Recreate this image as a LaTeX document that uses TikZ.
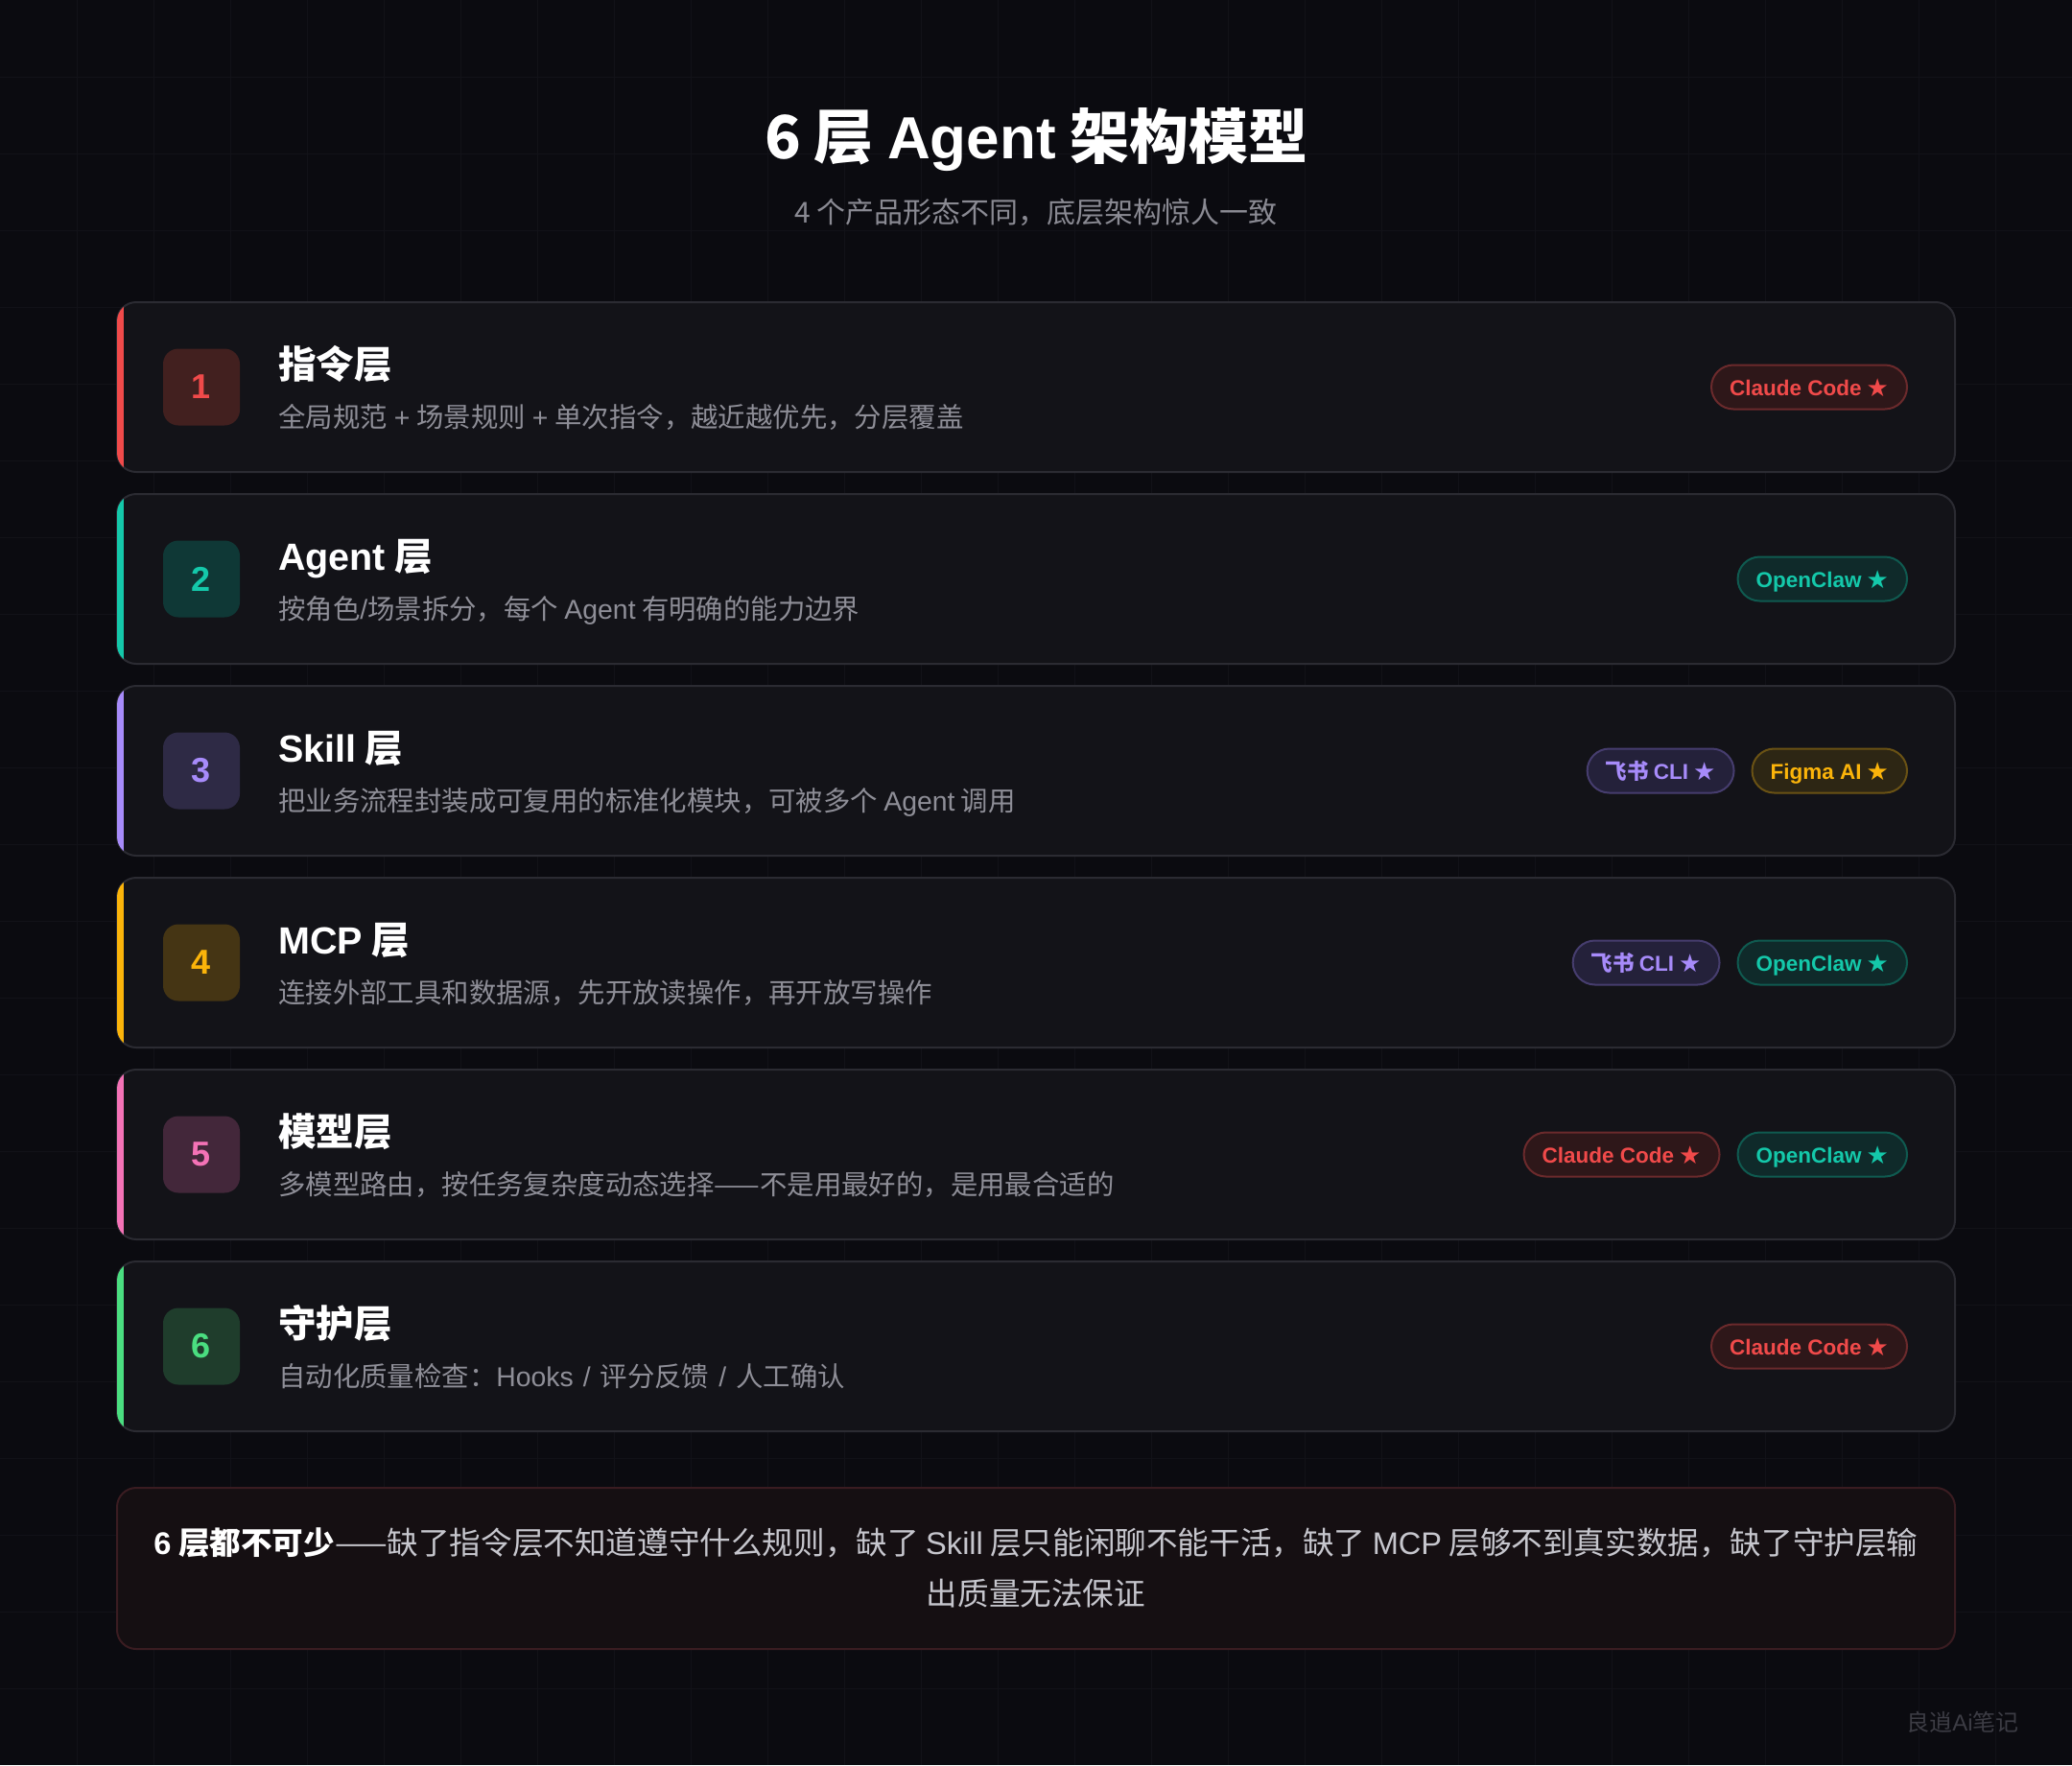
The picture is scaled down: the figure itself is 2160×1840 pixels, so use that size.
\documentclass[tikz,border=0pt]{standalone}
\usepackage{fontspec}
\setmainfont{Noto Sans CJK SC}
\newfontfamily\latinfont{Liberation Sans}
\newfontfamily\starfont{DejaVu Sans}
\newcommand\latw[1]{{\latinfont #1}}
\newcommand\stargl{\raisebox{-1.5pt}{\starfont\fontsize{26}{28}\selectfont ★}}
\newcommand\wsp{\hspace{7pt}}
\definecolor{bgc}{HTML}{0B0B10}
\definecolor{gridc}{HTML}{121218}
\definecolor{cardfill}{HTML}{131318}
\definecolor{cardborder}{HTML}{2B2B32}
\definecolor{desctx}{HTML}{8E8E97}
\definecolor{subtx}{HTML}{8A8A93}
% accent colours
\definecolor{acred}{HTML}{F04A4A}
\definecolor{acteal}{HTML}{14C8AA}
\definecolor{acpurple}{HTML}{A78BFA}
\definecolor{acamber}{HTML}{FBB40A}
\definecolor{acpink}{HTML}{F472B6}
\definecolor{acgreen}{HTML}{4ADE80}
% number box fills
\definecolor{nbred}{HTML}{42201F}
\definecolor{nbteal}{HTML}{0F3836}
\definecolor{nbpurple}{HTML}{2E2A45}
\definecolor{nbamber}{HTML}{453514}
\definecolor{nbpink}{HTML}{43273A}
\definecolor{nbgreen}{HTML}{1F3D2C}
% badge colours
\definecolor{bgred}{HTML}{2E1719}
\definecolor{bdred}{HTML}{6B2A2C}
\definecolor{bgteal}{HTML}{0F2A2A}
\definecolor{bdteal}{HTML}{0F5A50}
\definecolor{bgpurple}{HTML}{24213A}
\definecolor{bdpurple}{HTML}{463D6E}
\definecolor{bgamber}{HTML}{2D2614}
\definecolor{bdamber}{HTML}{6A5214}
% bottom note
\definecolor{notefill}{HTML}{150F12}
\definecolor{noteborder}{HTML}{3A1C21}
\definecolor{notetx}{HTML}{C6C6CD}
\definecolor{marktx}{HTML}{3C3C44}
\tikzset{
  numbox/.style={minimum width=80, minimum height=80, inner sep=0, rounded corners=16,
    font=\fontsize{36}{40}\selectfont\latinfont\bfseries},
  ltitle/.style={anchor=base west, inner sep=0, text=white, font=\fontsize{39.5}{44}\selectfont\bfseries},
  ldesc/.style={anchor=base west, inner sep=0, text=desctx, font=\fontsize{28.4}{32}\selectfont},
  badge/.style={anchor=east, rounded corners=23, minimum height=46, inner xsep=19, inner ysep=0,
    line width=2, text height=17, text depth=0, font=\fontsize{22.5}{26}\selectfont\bfseries},
  bred/.style={badge, fill=bgred, draw=bdred, text=acred},
  bteal/.style={badge, fill=bgteal, draw=bdteal, text=acteal},
  bpurple/.style={badge, fill=bgpurple, draw=bdpurple, text=acpurple},
  bamber/.style={badge, fill=bgamber, draw=bdamber, text=acamber},
}
\newcommand\layercard[6]{%
  \fill[cardfill, rounded corners=20] (122,#2) rectangle (2038,#2+177);
  \draw[cardborder, line width=2, rounded corners=20] (122,#2) rectangle (2038,#2+177);
  \begin{scope}
    \clip[rounded corners=20] (122,#2) rectangle (2038,#2+177);
    \fill[#3] (120,#2) rectangle (129,#2+177);
  \end{scope}
  \node[numbox, fill=#4, text=#3] (n#1) at (210,#2+88.5) {#1};
  \node[ltitle] (t#1) at (290,#2+79.5) {#5};
  \node[ldesc] (d#1) at (290,#2+130) {#6};
}
\begin{document}
\begin{tikzpicture}[x=1pt,y=-1pt]
\useasboundingbox (0,0) rectangle (2160,1840);
\fill[bgc] (0,0) rectangle (2160,1840);
\foreach \i in {80,160,...,2080} \draw[gridc, line width=1] (\i,0) -- (\i,1840);
\foreach \j in {80,160,...,1760} \draw[gridc, line width=1] (0,\j) -- (2160,\j);

\node[anchor=base, inner sep=0, text=white, font=\fontsize{62}{70}\selectfont\bfseries] (title) at (1080,165)
  {6 层 \latw{Agent} 架构模型};
\node[anchor=base, inner sep=0, text=subtx, font=\fontsize{30}{34}\selectfont] (subtitle) at (1080,232)
  {4 个产品形态不同，底层架构惊人一致};

\layercard{1}{315}{acred}{nbred}{指令层}{全局规范\wsp{}\latw{+}\wsp{}场景规则\wsp{}\latw{+}\wsp{}单次指令，越近越优先，分层覆盖}
\layercard{2}{515}{acteal}{nbteal}{\latw{Agent} 层}{按角色\latw{/}场景拆分，每个 \latw{Agent} 有明确的能力边界}
\layercard{3}{715}{acpurple}{nbpurple}{\latw{Skill} 层}{把业务流程封装成可复用的标准化模块，可被多个 \latw{Agent} 调用}
\layercard{4}{915}{acamber}{nbamber}{\latw{MCP} 层}{连接外部工具和数据源，先开放读操作，再开放写操作}
\layercard{5}{1115}{acpink}{nbpink}{模型层}{多模型路由，按任务复杂度动态选择——不是用最好的，是用最合适的}
\layercard{6}{1315}{acgreen}{nbgreen}{守护层}{自动化质量检查：\latw{Hooks}\hspace{10pt}\latw{/}\hspace{10pt}评分反馈\hspace{10pt}\latw{/}\hspace{10pt}人工确认}

% badges
\node[bred] (b1a) at (1989,403.5) {\latw{Claude Code} \stargl};
\node[bteal] (b2a) at (1989,603.5) {\latw{OpenClaw} \stargl};
\node[bamber] (b3a) at (1989,803.5) {\latw{Figma AI} \stargl};
\node[bpurple] (b3b) at ([xshift=-17]b3a.west) {飞书 \latw{CLI} \stargl};
\node[bteal] (b4a) at (1989,1003.5) {\latw{OpenClaw} \stargl};
\node[bpurple] (b4b) at ([xshift=-17]b4a.west) {飞书 \latw{CLI} \stargl};
\node[bteal] (b5a) at (1989,1203.5) {\latw{OpenClaw} \stargl};
\node[bred] (b5b) at ([xshift=-17]b5a.west) {\latw{Claude Code} \stargl};
\node[bred] (b6a) at (1989,1403.5) {\latw{Claude Code} \stargl};

% bottom note
\draw[fill=notefill, draw=noteborder, line width=2, rounded corners=20] (122,1551) rectangle (2038,1719);
\node[anchor=base, inner sep=0, text=notetx, font=\fontsize{32.6}{36}\selectfont] (note1) at (1080,1620)
  {{\color{white}\bfseries\latw{6} 层都不可少}——缺了指令层不知道遵守什么规则，缺了 \latw{Skill} 层只能闲聊不能干活，缺了 \latw{MCP} 层够不到真实数据，缺了守护层输};
\node[anchor=base, inner sep=0, text=notetx, font=\fontsize{32.6}{36}\selectfont] (note2) at (1080,1673)
  {出质量无法保证};

\node[inner sep=0, text=marktx, font=\fontsize{24}{28}\selectfont] (mark) at (2046,1795) {良逍\latw{Ai}笔记};
\end{tikzpicture}
\end{document}
